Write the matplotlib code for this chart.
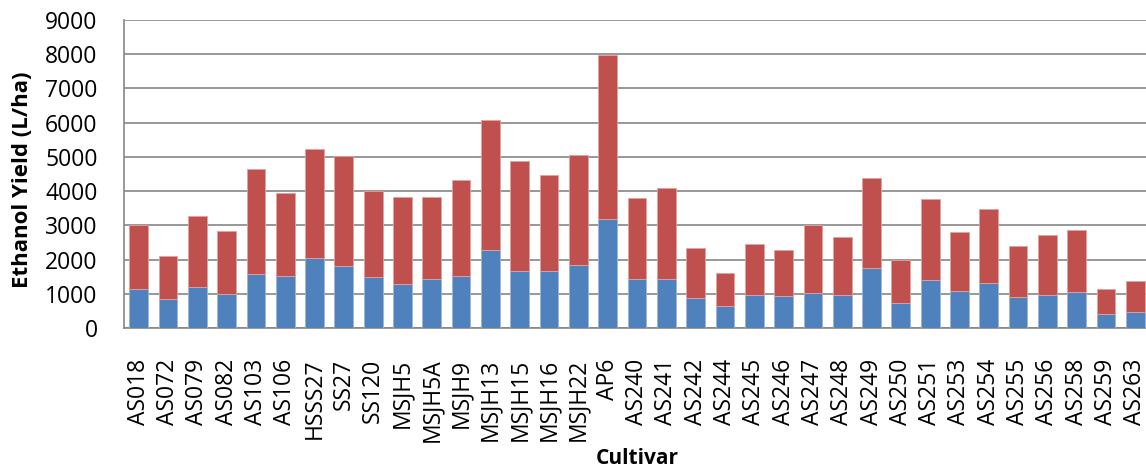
import numpy as np
import matplotlib.pyplot as plt

cultivars = [
    "AS018", "AS072", "AS079", "AS082", "AS103", "AS106", "HSSS27", "SS27",
    "SS120", "MSJH5", "MSJH5A", "MSJH9", "MSJH13", "MSJH15", "MSJH16", "MSJH22",
    "AP6", "AS240", "AS241", "AS242", "AS244", "AS245", "AS246", "AS247",
    "AS248", "AS249", "AS250", "AS251", "AS253", "AS254", "AS255", "AS256",
    "AS258", "AS259", "AS263",
]
# lower (blue) segment
blue_part = [
    1130, 838, 1208, 1003, 1568, 1510, 2045, 1812,
    1490, 1295, 1422, 1510, 2270, 1666, 1675, 1841,
    3185, 1422, 1442, 867, 633, 964, 925, 1023,
    955, 1763, 721, 1403, 1081, 1315, 906, 964,
    1042, 409, 468,
]
# total bar height (blue + red)
total = [
    3000, 2104, 3273, 2835, 4646, 3955, 5221, 5016,
    4013, 3819, 3828, 4325, 6078, 4890, 4461, 5046,
    7968, 3790, 4091, 2347, 1607, 2445, 2279, 3010,
    2659, 4383, 1997, 3770, 2815, 3478, 2386, 2718,
    2854, 1149, 1383,
]
red_part = [t - b for t, b in zip(total, blue_part)]

BLUE = "#4F81BD"
RED = "#C0504D"
GRID = "#868686"

plt.rcParams["font.family"] = ["Open Sans", "DejaVu Sans"]

fig = plt.figure(figsize=(11.46, 4.70), dpi=100)
ax = fig.add_axes([124 / 1146, 142 / 470, 1026 / 1146, 308 / 470])

x = np.arange(len(cultivars))
ax.bar(x, blue_part, width=0.64, color=BLUE, edgecolor="#9DB5DA",
       linewidth=0.6, zorder=3)
ax.bar(x, red_part, bottom=blue_part, width=0.64, color=RED,
       edgecolor="#E0A3A2", linewidth=0.6, zorder=3)

ax.set_xlim(-0.5, len(cultivars) - 0.5)
ax.set_ylim(0, 9000)
ax.set_yticks(np.arange(0, 9001, 1000))
ax.yaxis.grid(True, color=GRID, linewidth=1.2, zorder=0)
ax.set_axisbelow(True)

ax.set_xticks(x)
ax.set_xticklabels(cultivars, rotation=90, fontsize=16.5)
ax.tick_params(axis="x", length=0, pad=22)
ax.tick_params(axis="y", length=0, pad=19, labelsize=16.5)

for side in ("top", "right"):
    ax.spines[side].set_visible(False)
for side in ("left", "bottom"):
    ax.spines[side].set_color(GRID)
    ax.spines[side].set_linewidth(1.2)

fig.text(23 / 1146, 1 - 180 / 470, "Ethanol Yield (L/ha)", fontsize=16,
         fontweight="bold", rotation=90, ha="center", va="center")
fig.text(637 / 1146, 1 - 459 / 470, "Cultivar", fontsize=15,
         fontweight="bold", ha="center", va="center")

fig.savefig("out.png", dpi=100)
